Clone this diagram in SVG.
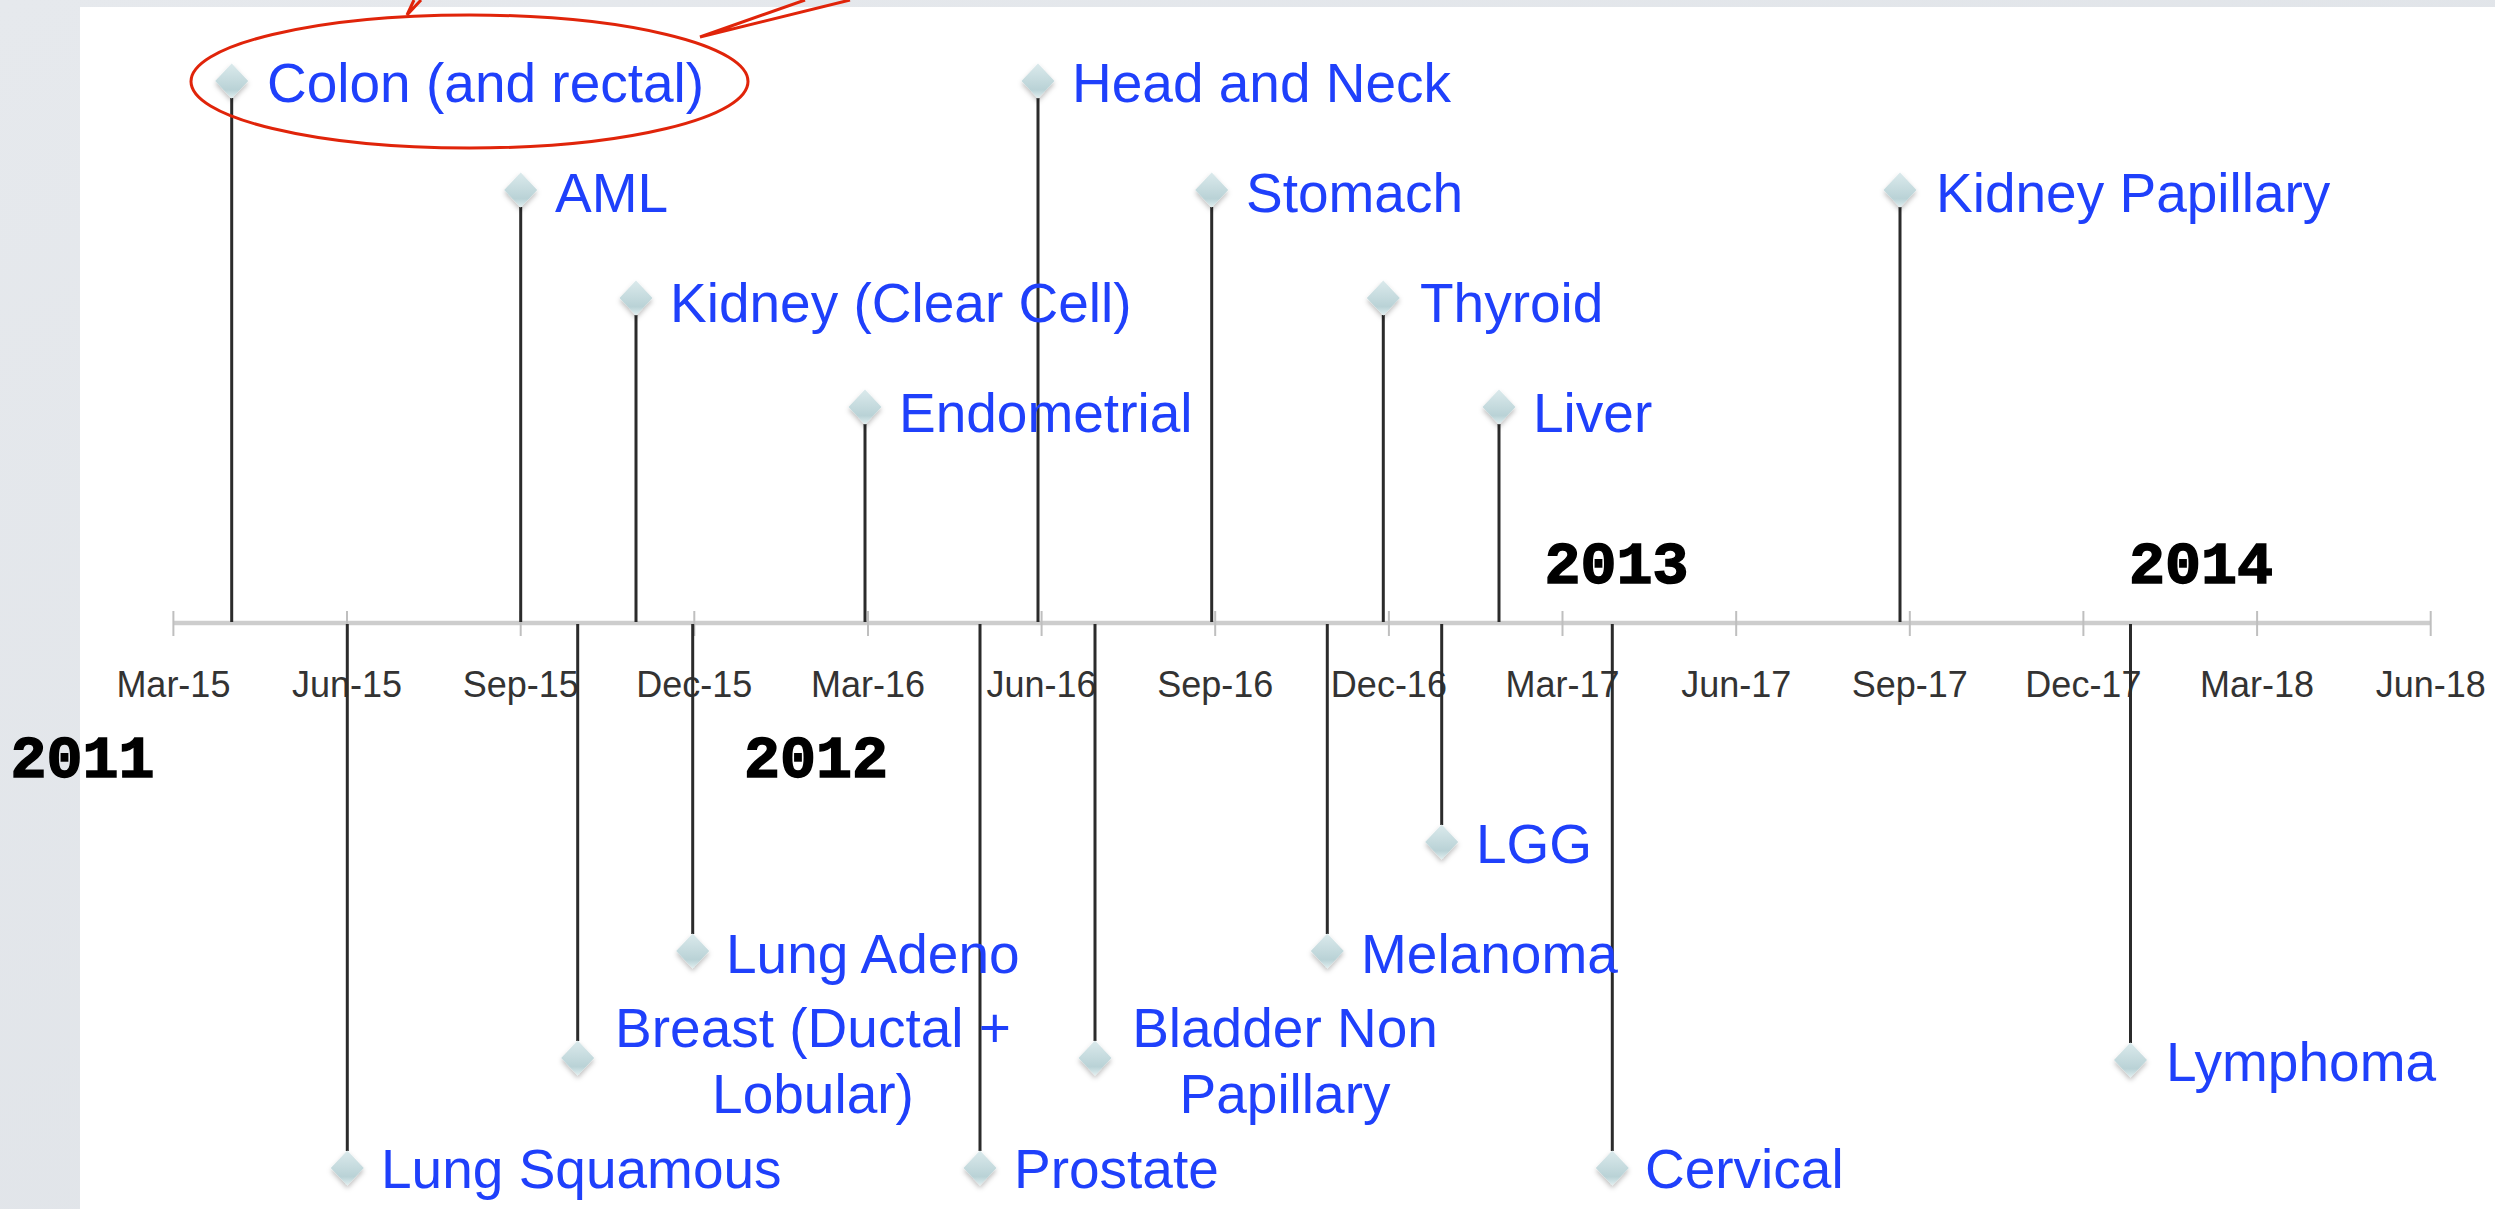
<svg xmlns="http://www.w3.org/2000/svg" xmlns:xlink="http://www.w3.org/1999/xlink" width="2495" height="1209" viewBox="0 0 2495 1209">
  <style>
    .lbl { font-family: "Liberation Sans", Arial, sans-serif; font-size: 55px; fill: #1f40fb; }
    .mid { text-anchor: middle; }
    .tick { font-family: "Liberation Sans", Arial, sans-serif; font-size: 36px; fill: #333333; text-anchor: middle; }
    .year { font-family: "Liberation Mono", "Courier New", monospace; font-weight: bold; font-size: 60px; fill: #000000; stroke: #000000; stroke-width: 1.5; text-anchor: middle; }
    .stem { stroke: #2b2b2b; stroke-width: 3; fill: none; }
    .axis { stroke: #cdcdcd; stroke-width: 4.5; fill: none; }
    .tk { stroke: #bfbfbf; stroke-width: 2; fill: none; }
    .red { stroke: #e0240a; stroke-width: 3; fill: none; }
  </style>
  <defs>
    <linearGradient id="bg" x1="0" y1="0" x2="1" y2="1">
      <stop offset="0" stop-color="#e6e9ed"/>
      <stop offset="1" stop-color="#dde1e6"/>
    </linearGradient>
    <linearGradient id="dg" x1="0" y1="0" x2="0" y2="1">
      <stop offset="0" stop-color="#dbeaec"/>
      <stop offset="0.75" stop-color="#b9d2d6"/>
      <stop offset="1" stop-color="#e2f0f1"/>
    </linearGradient>
    <filter id="sh" x="-50%" y="-50%" width="200%" height="200%">
      <feDropShadow dx="0" dy="3" stdDeviation="2.5" flood-color="#000000" flood-opacity="0.25"/>
    </filter>
    <path id="dia" d="M0,-17.5 L16.5,0 L0,17.5 L-16.5,0 Z" fill="url(#dg)" filter="url(#sh)"/>
  </defs>

  <rect x="0" y="0" width="2495" height="1209" fill="url(#bg)"/>
  <rect x="80" y="7" width="2415" height="1202" fill="#ffffff"/>

  <g id="axis">
    <line class="axis" x1="173.4" y1="623" x2="2430.7" y2="623"/>
    <g class="ticks">
      <line class="tk" x1="173.4" y1="611" x2="173.4" y2="636"/>
      <line class="tk" x1="347" y1="611" x2="347" y2="636"/>
      <line class="tk" x1="520.7" y1="611" x2="520.7" y2="636"/>
      <line class="tk" x1="694.3" y1="611" x2="694.3" y2="636"/>
      <line class="tk" x1="868" y1="611" x2="868" y2="636"/>
      <line class="tk" x1="1041.6" y1="611" x2="1041.6" y2="636"/>
      <line class="tk" x1="1215.2" y1="611" x2="1215.2" y2="636"/>
      <line class="tk" x1="1388.9" y1="611" x2="1388.9" y2="636"/>
      <line class="tk" x1="1562.5" y1="611" x2="1562.5" y2="636"/>
      <line class="tk" x1="1736.2" y1="611" x2="1736.2" y2="636"/>
      <line class="tk" x1="1909.8" y1="611" x2="1909.8" y2="636"/>
      <line class="tk" x1="2083.4" y1="611" x2="2083.4" y2="636"/>
      <line class="tk" x1="2257.1" y1="611" x2="2257.1" y2="636"/>
      <line class="tk" x1="2430.7" y1="611" x2="2430.7" y2="636"/>
    </g>
    <g class="ticklabels">
      <text class="tick" x="173.4" y="697">Mar-15</text>
      <text class="tick" x="347" y="697">Jun-15</text>
      <text class="tick" x="520.7" y="697">Sep-15</text>
      <text class="tick" x="694.3" y="697">Dec-15</text>
      <text class="tick" x="868" y="697">Mar-16</text>
      <text class="tick" x="1041.6" y="697">Jun-16</text>
      <text class="tick" x="1215.2" y="697">Sep-16</text>
      <text class="tick" x="1388.9" y="697">Dec-16</text>
      <text class="tick" x="1562.5" y="697">Mar-17</text>
      <text class="tick" x="1736.2" y="697">Jun-17</text>
      <text class="tick" x="1909.8" y="697">Sep-17</text>
      <text class="tick" x="2083.4" y="697">Dec-17</text>
      <text class="tick" x="2257.1" y="697">Mar-18</text>
      <text class="tick" x="2430.7" y="697">Jun-18</text>
    </g>
  </g>

  <g id="years">
    <text class="year" x="82.5" y="777">2011</text>
    <text class="year" x="816" y="777">2012</text>
    <text class="year" x="1616.5" y="583">2013</text>
    <text class="year" x="2201" y="583">2014</text>
  </g>

  <g id="connectors">
    <line class="stem" x1="231.7" y1="98" x2="231.7" y2="622"/>
    <line class="stem" x1="520.7" y1="207" x2="520.7" y2="622"/>
    <line class="stem" x1="636" y1="315" x2="636" y2="622"/>
    <line class="stem" x1="865" y1="424" x2="865" y2="622"/>
    <line class="stem" x1="1038" y1="98" x2="1038" y2="622"/>
    <line class="stem" x1="1211.7" y1="207" x2="1211.7" y2="622"/>
    <line class="stem" x1="1383.3" y1="315" x2="1383.3" y2="622"/>
    <line class="stem" x1="1499" y1="424" x2="1499" y2="622"/>
    <line class="stem" x1="1900" y1="207" x2="1900" y2="622"/>
    <line class="stem" x1="347.3" y1="624" x2="347.3" y2="1151"/>
    <line class="stem" x1="577.7" y1="624" x2="577.7" y2="1041"/>
    <line class="stem" x1="692.7" y1="624" x2="692.7" y2="934"/>
    <line class="stem" x1="980" y1="624" x2="980" y2="1151"/>
    <line class="stem" x1="1095" y1="624" x2="1095" y2="1041"/>
    <line class="stem" x1="1327.3" y1="624" x2="1327.3" y2="934"/>
    <line class="stem" x1="1441.7" y1="624" x2="1441.7" y2="825"/>
    <line class="stem" x1="1612.3" y1="624" x2="1612.3" y2="1151"/>
    <line class="stem" x1="2130.5" y1="624" x2="2130.5" y2="1043"/>
  </g>

  <g id="node-colon">
    <use href="#dia" x="231.7" y="81"/>
    <text class="lbl" x="267" y="102">Colon (and rectal)</text>
  </g>
  <g id="node-aml">
    <use href="#dia" x="520.7" y="190"/>
    <text class="lbl" x="555" y="212">AML</text>
  </g>
  <g id="node-kidney-clear-cell">
    <use href="#dia" x="636" y="298"/>
    <text class="lbl" x="670" y="322">Kidney (Clear Cell)</text>
  </g>
  <g id="node-endometrial">
    <use href="#dia" x="865" y="407"/>
    <text class="lbl" x="899" y="432">Endometrial</text>
  </g>
  <g id="node-head-neck">
    <use href="#dia" x="1038" y="81"/>
    <text class="lbl" x="1072" y="102">Head and Neck</text>
  </g>
  <g id="node-stomach">
    <use href="#dia" x="1211.7" y="190"/>
    <text class="lbl" x="1246" y="212">Stomach</text>
  </g>
  <g id="node-thyroid">
    <use href="#dia" x="1383.3" y="298"/>
    <text class="lbl" x="1420" y="322">Thyroid</text>
  </g>
  <g id="node-liver">
    <use href="#dia" x="1499" y="407"/>
    <text class="lbl" x="1533" y="432">Liver</text>
  </g>
  <g id="node-kidney-papillary">
    <use href="#dia" x="1900" y="190"/>
    <text class="lbl" x="1936" y="212">Kidney Papillary</text>
  </g>

  <g id="node-lung-squamous">
    <use href="#dia" x="347.3" y="1168"/>
    <text class="lbl" x="381" y="1188">Lung Squamous</text>
  </g>
  <g id="node-breast">
    <use href="#dia" x="577.7" y="1058"/>
    <text class="lbl mid" x="813" y="1047">Breast (Ductal +</text>
    <text class="lbl mid" x="813" y="1113">Lobular)</text>
  </g>
  <g id="node-lung-adeno">
    <use href="#dia" x="692.7" y="951"/>
    <text class="lbl" x="726" y="973">Lung Adeno</text>
  </g>
  <g id="node-prostate">
    <use href="#dia" x="980" y="1168"/>
    <text class="lbl" x="1014" y="1188">Prostate</text>
  </g>
  <g id="node-bladder">
    <use href="#dia" x="1095" y="1058"/>
    <text class="lbl mid" x="1285" y="1047">Bladder Non</text>
    <text class="lbl mid" x="1285" y="1113">Papillary</text>
  </g>
  <g id="node-melanoma">
    <use href="#dia" x="1327.3" y="951"/>
    <text class="lbl" x="1361" y="973">Melanoma</text>
  </g>
  <g id="node-lgg">
    <use href="#dia" x="1441.7" y="842"/>
    <text class="lbl" x="1476" y="863">LGG</text>
  </g>
  <g id="node-cervical">
    <use href="#dia" x="1612.3" y="1168"/>
    <text class="lbl" x="1645" y="1188">Cervical</text>
  </g>
  <g id="node-lymphoma">
    <use href="#dia" x="2130.5" y="1060"/>
    <text class="lbl" x="2166" y="1081">Lymphoma</text>
  </g>

  <g id="highlight">
    <ellipse class="red" cx="469.5" cy="81.5" rx="278.5" ry="66.5"/>
    <polyline class="red" points="414,0 407,15 421,0"/>
    <polyline class="red" points="805,0 700,37 850,0"/>
  </g>
</svg>
